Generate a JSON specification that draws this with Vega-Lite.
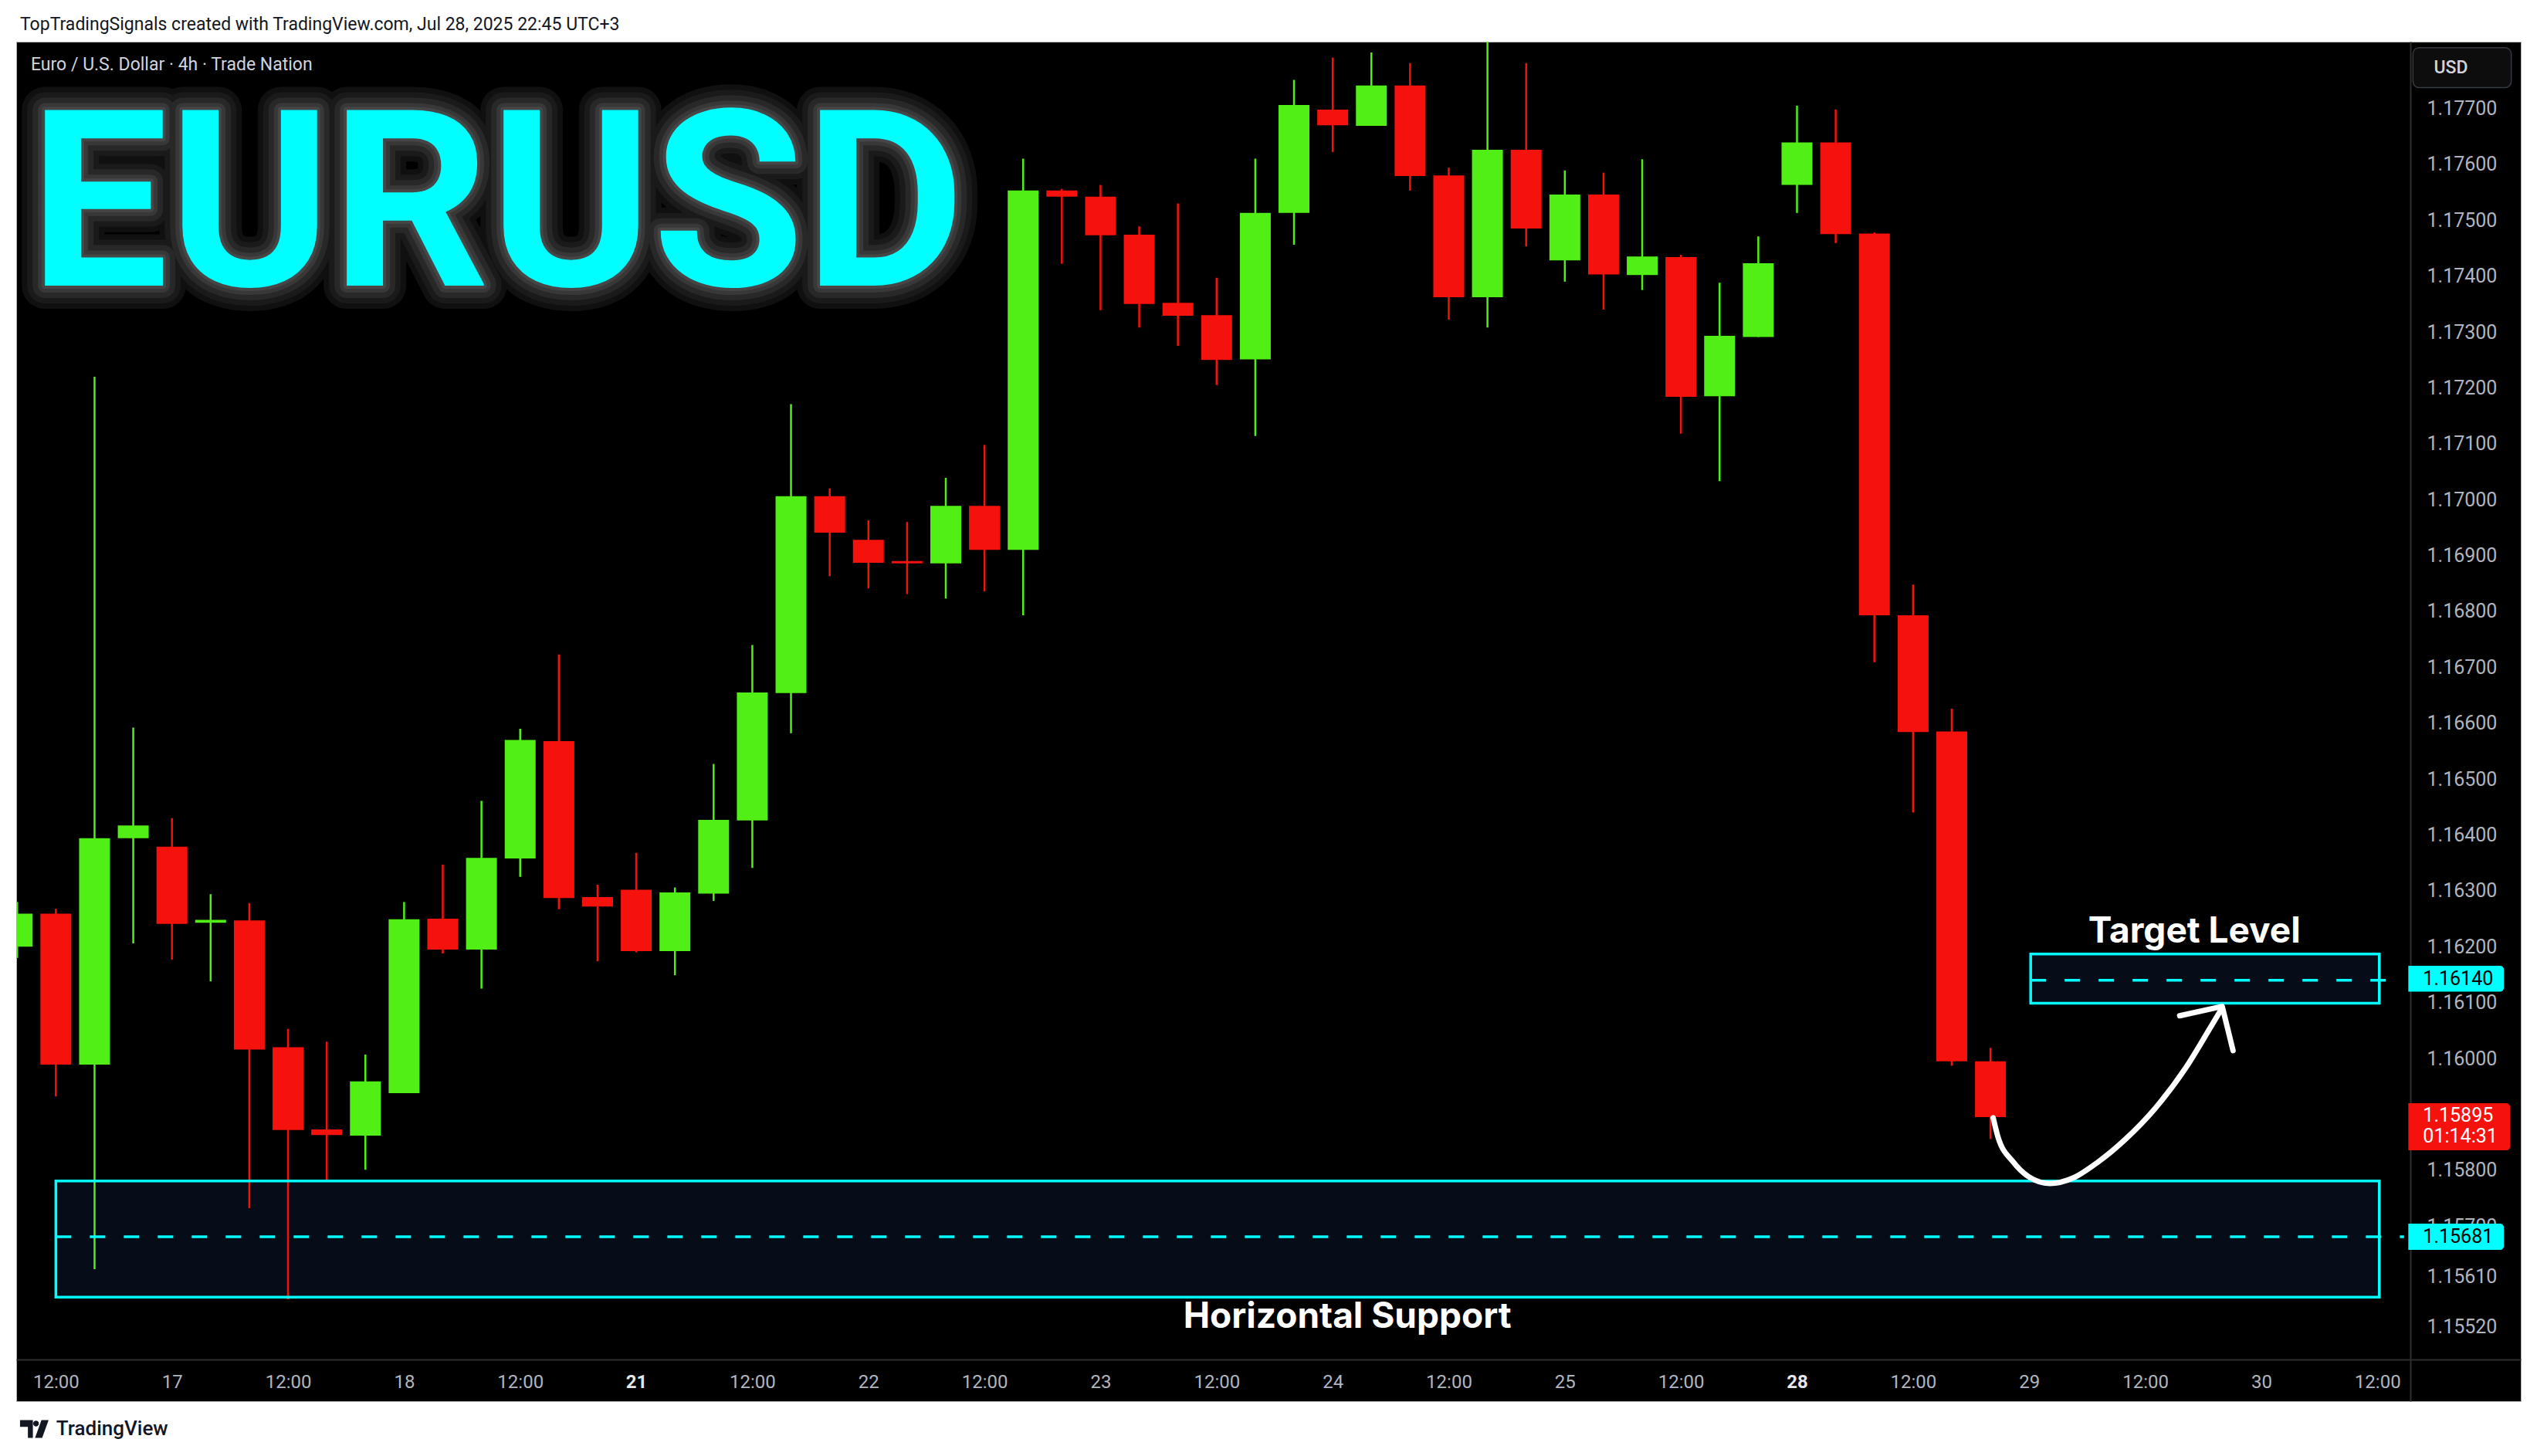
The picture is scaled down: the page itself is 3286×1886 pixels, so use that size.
{
  "$schema": "https://vega.github.io/schema/vega-lite/v6.json",
  "width": 3244,
  "height": 1761,
  "autosize": {"type": "none"},
  "padding": {"left": 21, "top": 54, "right": 21, "bottom": 71},
  "background": "#ffffff",
  "config": {"view": {"fill": "#000000", "stroke": "#b4b4b4", "strokeWidth": 1}},
  "datasets": {
    "candles": [
      {"i": -1, "o": 1.16200, "h": 1.16280, "l": 1.16180, "c": 1.16259},
      {"i": 0, "o": 1.16259, "h": 1.16268, "l": 1.15932, "c": 1.15989},
      {"i": 1, "o": 1.15989, "h": 1.17220, "l": 1.15623, "c": 1.16394},
      {"i": 2, "o": 1.16394, "h": 1.16592, "l": 1.16206, "c": 1.16417},
      {"i": 3, "o": 1.16379, "h": 1.16430, "l": 1.16177, "c": 1.16241},
      {"i": 4, "o": 1.16243, "h": 1.16294, "l": 1.16138, "c": 1.16248},
      {"i": 5, "o": 1.16247, "h": 1.16278, "l": 1.15732, "c": 1.16016},
      {"i": 6, "o": 1.16020, "h": 1.16053, "l": 1.15569, "c": 1.15872},
      {"i": 7, "o": 1.15873, "h": 1.16030, "l": 1.15781, "c": 1.15863},
      {"i": 8, "o": 1.15862, "h": 1.16007, "l": 1.15801, "c": 1.15959},
      {"i": 9, "o": 1.15938, "h": 1.16280, "l": 1.15938, "c": 1.16249},
      {"i": 10, "o": 1.16250, "h": 1.16347, "l": 1.16188, "c": 1.16195},
      {"i": 11, "o": 1.16195, "h": 1.16461, "l": 1.16125, "c": 1.16359},
      {"i": 12, "o": 1.16358, "h": 1.16590, "l": 1.16325, "c": 1.16570},
      {"i": 13, "o": 1.16568, "h": 1.16723, "l": 1.16267, "c": 1.16287},
      {"i": 14, "o": 1.16289, "h": 1.16311, "l": 1.16174, "c": 1.16272},
      {"i": 15, "o": 1.16302, "h": 1.16368, "l": 1.16190, "c": 1.16192},
      {"i": 16, "o": 1.16192, "h": 1.16306, "l": 1.16149, "c": 1.16297},
      {"i": 17, "o": 1.16295, "h": 1.16527, "l": 1.16282, "c": 1.16427},
      {"i": 18, "o": 1.16426, "h": 1.16740, "l": 1.16341, "c": 1.16655},
      {"i": 19, "o": 1.16654, "h": 1.17171, "l": 1.16582, "c": 1.17006},
      {"i": 20, "o": 1.17006, "h": 1.17020, "l": 1.16863, "c": 1.16941},
      {"i": 21, "o": 1.16928, "h": 1.16963, "l": 1.16841, "c": 1.16887},
      {"i": 22, "o": 1.16890, "h": 1.16960, "l": 1.16831, "c": 1.16886},
      {"i": 23, "o": 1.16886, "h": 1.17039, "l": 1.16823, "c": 1.16989},
      {"i": 24, "o": 1.16989, "h": 1.17098, "l": 1.16836, "c": 1.16910},
      {"i": 25, "o": 1.16910, "h": 1.17610, "l": 1.16793, "c": 1.17553},
      {"i": 26, "o": 1.17553, "h": 1.17556, "l": 1.17422, "c": 1.17542},
      {"i": 27, "o": 1.17542, "h": 1.17563, "l": 1.17339, "c": 1.17473},
      {"i": 28, "o": 1.17474, "h": 1.17489, "l": 1.17308, "c": 1.17350},
      {"i": 29, "o": 1.17352, "h": 1.17530, "l": 1.17275, "c": 1.17329},
      {"i": 30, "o": 1.17330, "h": 1.17397, "l": 1.17205, "c": 1.17250},
      {"i": 31, "o": 1.17251, "h": 1.17610, "l": 1.17114, "c": 1.17513},
      {"i": 32, "o": 1.17513, "h": 1.17751, "l": 1.17456, "c": 1.17706},
      {"i": 33, "o": 1.17698, "h": 1.17791, "l": 1.17622, "c": 1.17670},
      {"i": 34, "o": 1.17669, "h": 1.17800, "l": 1.17669, "c": 1.17741},
      {"i": 35, "o": 1.17741, "h": 1.17781, "l": 1.17553, "c": 1.17579},
      {"i": 36, "o": 1.17580, "h": 1.17594, "l": 1.17322, "c": 1.17362},
      {"i": 37, "o": 1.17362, "h": 1.17830, "l": 1.17308, "c": 1.17626},
      {"i": 38, "o": 1.17626, "h": 1.17781, "l": 1.17453, "c": 1.17485},
      {"i": 39, "o": 1.17428, "h": 1.17589, "l": 1.17390, "c": 1.17546},
      {"i": 40, "o": 1.17546, "h": 1.17585, "l": 1.17340, "c": 1.17403},
      {"i": 41, "o": 1.17402, "h": 1.17609, "l": 1.17375, "c": 1.17435},
      {"i": 42, "o": 1.17434, "h": 1.17438, "l": 1.17118, "c": 1.17184},
      {"i": 43, "o": 1.17185, "h": 1.17388, "l": 1.17033, "c": 1.17293},
      {"i": 44, "o": 1.17291, "h": 1.17471, "l": 1.17291, "c": 1.17423},
      {"i": 45, "o": 1.17563, "h": 1.17705, "l": 1.17513, "c": 1.17639},
      {"i": 46, "o": 1.17639, "h": 1.17698, "l": 1.17459, "c": 1.17475},
      {"i": 47, "o": 1.17476, "h": 1.17478, "l": 1.16709, "c": 1.16793},
      {"i": 48, "o": 1.16793, "h": 1.16848, "l": 1.16440, "c": 1.16584},
      {"i": 49, "o": 1.16585, "h": 1.16626, "l": 1.15987, "c": 1.15995},
      {"i": 50, "o": 1.15995, "h": 1.16019, "l": 1.15856, "c": 1.15895}
    ],
    "zones": [
      {"name": "Horizontal Support", "x1": 0, "x2": 60.05, "lo": 1.15573, "hi": 1.15781, "level": 1.15681},
      {"name": "Target Level", "x1": 51.04, "x2": 60.05, "lo": 1.16099, "hi": 1.16187, "level": 1.16140}
    ],
    "glow": [
      {"w": 60, "col": "#101010"},
      {"w": 46, "col": "#1a1a1a"},
      {"w": 32, "col": "#282828"},
      {"w": 18, "col": "#383838"},
      {"w": 8, "col": "#464646"}
    ],
    "curve": [
      {"k": 1, "x": 50.07, "p": 1.15894},
      {"k": 2, "x": 50.19, "p": 1.158607},
      {"k": 3, "x": 50.59, "p": 1.158147},
      {"k": 4, "x": 50.97, "p": 1.157892},
      {"k": 5, "x": 51.53, "p": 1.157763},
      {"k": 6, "x": 52.15, "p": 1.157867},
      {"k": 7, "x": 52.78, "p": 1.158147},
      {"k": 8, "x": 53.49, "p": 1.158556},
      {"k": 9, "x": 54.27, "p": 1.159118},
      {"k": 10, "x": 55.05, "p": 1.159835},
      {"k": 11, "x": 55.68, "p": 1.160549},
      {"k": 12, "x": 55.99, "p": 1.160907}
    ],
    "head": [
      {"k": 1, "x": 54.89, "p": 1.160765},
      {"k": 2, "x": 55.99, "p": 1.160933},
      {"k": 3, "x": 56.27, "p": 1.160141}
    ]
  },
  "layer": [
    {
      "data": {"name": "zones"},
      "mark": {"type": "rect", "fill": "#070d18"},
      "encoding": {
        "x": {
          "field": "x1", "type": "quantitative",
          "scale": {"domain": [-0.925, 63.607], "nice": false, "zero": false},
          "axis": {
            "title": null, "orient": "bottom", "offset": -54,
            "values": [0, 3, 6, 9, 12, 15, 18, 21, 24, 27, 30, 33, 36, 39, 42, 45, 48, 51, 54, 57, 60],
            "labelExpr": "datum.value % 6 == 0 ? '12:00' : ['17','18','21','22','23','24','25','28','29','30'][(datum.value - 3) / 6]",
            "ticks": false, "tickSize": 0, "grid": false,
            "domainColor": "#2e2e2e", "domainWidth": 2,
            "labelFont": "Roboto", "labelFontSize": 24,
            "labelColor": {"condition": {"test": "datum.value == 15 || datum.value == 45", "value": "#e6e8ee"}, "value": "#b2b5be"},
            "labelFontWeight": {"condition": {"test": "datum.value == 15 || datum.value == 45", "value": "bold"}, "value": "normal"},
            "labelPadding": 29, "labelBaseline": "middle",
            "labelOverlap": false, "labelFlush": false, "labelBound": false
          }
        },
        "x2": {"field": "x2"},
        "y": {
          "field": "lo", "type": "quantitative",
          "scale": {"domain": [1.153868, 1.178194], "nice": false, "zero": false},
          "axis": {
            "title": null, "orient": "right", "offset": -143,
            "values": [1.177, 1.176, 1.175, 1.174, 1.173, 1.172, 1.171, 1.17, 1.169, 1.168, 1.167, 1.166, 1.165, 1.164, 1.163, 1.162, 1.161, 1.16, 1.159, 1.158, 1.157, 1.1561, 1.1552],
            "format": ".5f",
            "ticks": false, "tickSize": 0, "grid": false,
            "domainColor": "#2e2e2e", "domainWidth": 2,
            "labelFont": "Roboto", "labelFontSize": 25, "labelColor": "#b2b5be",
            "labelPadding": 21, "labelAlign": "left", "labelBaseline": "middle",
            "labelOverlap": false, "labelFlush": false, "labelBound": false
          }
        },
        "y2": {"field": "hi"}
      }
    },
    {
      "data": {"name": "glow"},
      "mark": {"type": "text", "text": "EURUSD", "font": "Roboto", "fontWeight": "bold", "fontSize": 320, "align": "left", "baseline": "alphabetic", "strokeJoin": "round"},
      "encoding": {
        "x": {"datum": -0.686, "type": "quantitative"},
        "y": {"datum": 1.173829, "type": "quantitative"},
        "fill": {"field": "col", "type": "nominal", "scale": null},
        "stroke": {"field": "col", "type": "nominal", "scale": null},
        "strokeWidth": {"field": "w", "type": "quantitative", "scale": null},
        "order": {"field": "w", "sort": "descending"}
      }
    },
    {
      "data": {"values": [{}]},
      "mark": {"type": "text", "text": "EURUSD", "font": "Roboto", "fontWeight": "bold", "fontSize": 320, "align": "left", "baseline": "alphabetic", "fill": "#00ffff"},
      "encoding": {"x": {"datum": -0.686, "type": "quantitative"}, "y": {"datum": 1.173829, "type": "quantitative"}}
    },
    {
      "data": {"values": [{}]},
      "mark": {"type": "text", "text": "Euro / U.S. Dollar · 4h · Trade Nation", "font": "Roboto", "fontSize": 23, "align": "left", "baseline": "middle", "fill": "#d1d4dc"},
      "encoding": {"x": {"datum": -0.646, "type": "quantitative"}, "y": {"datum": 1.17778, "type": "quantitative"}}
    },
    {
      "data": {"values": [{}]},
      "mark": {"type": "text", "text": "TopTradingSignals created with TradingView.com, Jul 28, 2025 22:45 UTC+3", "font": "Roboto", "fontSize": 23, "align": "left", "baseline": "middle", "fill": "#131722"},
      "encoding": {"x": {"datum": -0.925, "type": "quantitative"}, "y": {"datum": 1.178498, "type": "quantitative"}}
    },
    {
      "data": {"name": "candles"},
      "mark": {"type": "rule", "strokeWidth": 2.5, "clip": true},
      "encoding": {
        "x": {"field": "i", "type": "quantitative"},
        "y": {"field": "l", "type": "quantitative"},
        "y2": {"field": "h"},
        "color": {"condition": {"test": "datum.c >= datum.o", "value": "#52ef17"}, "value": "#f5120c"}
      }
    },
    {
      "data": {"name": "candles"},
      "mark": {"type": "bar", "width": 40, "clip": true},
      "encoding": {
        "x": {"field": "i", "type": "quantitative"},
        "y": {"field": "o", "type": "quantitative"},
        "y2": {"field": "c"},
        "color": {"condition": {"test": "datum.c >= datum.o", "value": "#52ef17"}, "value": "#f5120c"}
      }
    },
    {
      "data": {"name": "zones"},
      "mark": {"type": "rect", "fillOpacity": 0, "stroke": "#00ffff", "strokeWidth": 3.5},
      "encoding": {
        "x": {"field": "x1", "type": "quantitative"},
        "x2": {"field": "x2"},
        "y": {"field": "lo", "type": "quantitative"},
        "y2": {"field": "hi"}
      }
    },
    {
      "data": {"name": "zones"},
      "mark": {"type": "rule", "stroke": "#00ffff", "strokeWidth": 3.5, "strokeDash": [20, 24]},
      "encoding": {
        "x": {"field": "x1", "type": "quantitative"},
        "x2": {"datum": 60.69},
        "y": {"field": "level", "type": "quantitative"}
      }
    },
    {
      "data": {"values": [{}]},
      "mark": {"type": "text", "text": "Target Level", "font": "Inter", "fontWeight": "bold", "fontSize": 46, "align": "center", "baseline": "alphabetic", "fill": "#ffffff"},
      "encoding": {"x": {"datum": 55.27, "type": "quantitative"}, "y": {"datum": 1.16208, "type": "quantitative"}}
    },
    {
      "data": {"values": [{}]},
      "mark": {"type": "text", "text": "Horizontal Support", "font": "Inter", "fontWeight": "bold", "fontSize": 46, "align": "center", "baseline": "alphabetic", "fill": "#ffffff"},
      "encoding": {"x": {"datum": 33.38, "type": "quantitative"}, "y": {"datum": 1.15518, "type": "quantitative"}}
    },
    {
      "data": {"name": "curve"},
      "mark": {"type": "line", "interpolate": "monotone", "stroke": "#ffffff", "strokeWidth": 7, "strokeCap": "round"},
      "encoding": {
        "x": {"field": "x", "type": "quantitative"},
        "y": {"field": "p", "type": "quantitative"},
        "order": {"field": "k"}
      }
    },
    {
      "data": {"name": "head"},
      "mark": {"type": "line", "stroke": "#ffffff", "strokeWidth": 7, "strokeCap": "round", "strokeJoin": "round"},
      "encoding": {
        "x": {"field": "x", "type": "quantitative"},
        "y": {"field": "p", "type": "quantitative"},
        "order": {"field": "k"}
      }
    },
    {
      "data": {"values": [{}]},
      "mark": {"type": "rect", "fill": "#0d0d0d", "stroke": "#363a45", "strokeWidth": 1.5, "cornerRadius": 8},
      "encoding": {
        "x": {"datum": 60.92, "type": "quantitative"}, "x2": {"datum": 63.46},
        "y": {"datum": 1.177372, "type": "quantitative"}, "y2": {"datum": 1.178087}
      }
    },
    {
      "data": {"values": [{}]},
      "mark": {"type": "text", "text": "USD", "font": "Roboto", "fontWeight": 500, "fontSize": 23, "align": "center", "baseline": "middle", "fill": "#d1d4dc"},
      "encoding": {"x": {"datum": 61.9, "type": "quantitative"}, "y": {"datum": 1.17773, "type": "quantitative"}}
    },
    {
      "data": {"values": [{}]},
      "mark": {"type": "rect", "fill": "#00ffff", "cornerRadiusTopRight": 5, "cornerRadiusBottomRight": 5},
      "encoding": {
        "x": {"datum": 60.8, "type": "quantitative"}, "x2": {"datum": 63.27},
        "y": {"datum": 1.161195, "type": "quantitative"}, "y2": {"datum": 1.161659}
      }
    },
    {
      "data": {"values": [{}]},
      "mark": {"type": "rect", "fill": "#00ffff", "cornerRadiusTopRight": 5, "cornerRadiusBottomRight": 5},
      "encoding": {
        "x": {"datum": 60.8, "type": "quantitative"}, "x2": {"datum": 63.27},
        "y": {"datum": 1.156575, "type": "quantitative"}, "y2": {"datum": 1.157045}
      }
    },
    {
      "data": {"values": [{}]},
      "mark": {"type": "rect", "fill": "#f5120c", "cornerRadiusTopRight": 5, "cornerRadiusBottomRight": 5},
      "encoding": {
        "x": {"datum": 60.8, "type": "quantitative"}, "x2": {"datum": 63.43},
        "y": {"datum": 1.158357, "type": "quantitative"}, "y2": {"datum": 1.1592}
      }
    },
    {
      "data": {"values": [{}]},
      "mark": {"type": "text", "text": "1.16140", "font": "Roboto", "fontSize": 25, "align": "left", "baseline": "middle", "fill": "#000000"},
      "encoding": {"x": {"datum": 61.18, "type": "quantitative"}, "y": {"datum": 1.16142, "type": "quantitative"}}
    },
    {
      "data": {"values": [{}]},
      "mark": {"type": "text", "text": "1.15681", "font": "Roboto", "fontSize": 25, "align": "left", "baseline": "middle", "fill": "#000000"},
      "encoding": {"x": {"datum": 61.18, "type": "quantitative"}, "y": {"datum": 1.15681, "type": "quantitative"}}
    },
    {
      "data": {"values": [{}]},
      "mark": {"type": "text", "text": "1.15895", "font": "Roboto", "fontSize": 25, "align": "left", "baseline": "middle", "fill": "#ffffff"},
      "encoding": {"x": {"datum": 61.18, "type": "quantitative"}, "y": {"datum": 1.158975, "type": "quantitative"}}
    },
    {
      "data": {"values": [{}]},
      "mark": {"type": "text", "text": "01:14:31", "font": "Roboto", "fontSize": 25, "align": "left", "baseline": "middle", "fill": "#ffffff"},
      "encoding": {"x": {"datum": 61.18, "type": "quantitative"}, "y": {"datum": 1.158602, "type": "quantitative"}}
    },
    {
      "data": {"values": [{}]},
      "mark": {"type": "point", "filled": true, "fill": "#131722", "opacity": 1, "size": 1369, "shape": "M -1 -0.62 L -0.1 -0.62 L -0.1 0.62 L -0.45 0.62 L -0.45 -0.15 L -1 -0.15 Z M 0.32 -0.38 A 0.2 0.2 0 1 0 -0.08 -0.38 A 0.2 0.2 0 1 0 0.32 -0.38 Z M 0.5 -0.62 L 1 -0.62 L 0.55 0.62 L 0.05 0.62 Z"},
      "encoding": {"x": {"datum": -0.557, "type": "quantitative"}, "y": {"datum": 1.15337, "type": "quantitative"}}
    },
    {
      "data": {"values": [{}]},
      "mark": {"type": "text", "text": "TradingView", "font": "Roboto", "fontWeight": 500, "fontSize": 26, "align": "left", "baseline": "middle", "fill": "#131722"},
      "encoding": {"x": {"datum": 0.01, "type": "quantitative"}, "y": {"datum": 1.15337, "type": "quantitative"}}
    }
  ]
}
